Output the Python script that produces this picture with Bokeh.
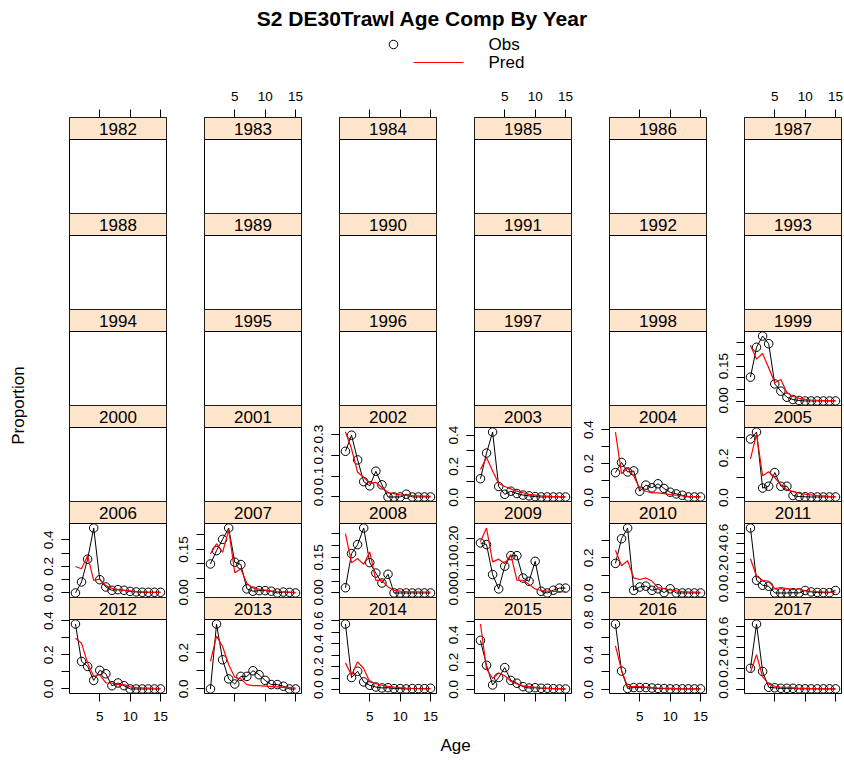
import math
from bokeh.plotting import figure
from bokeh.models import (Range1d, LinearAxis, FixedTicker, PrintfTickFormatter,
                          BoxAnnotation, Label)
from bokeh.layouts import row, column
from bokeh.embed import file_html
from bokeh.resources import INLINE

FONT = "Liberation Sans"
title_text = "S2 DE30Trawl Age Comp By Year"
x_label = "Age"
y_label = "Proportion"
key_labels = ["Obs", "Pred"]
years = list(range(1982, 2018))
ages = list(range(1, 16))
x_ticks = [5, 10, 15]

obs_1999 = [0.103, 0.231, 0.279, 0.246, 0.074, 0.043, 0.017, 0.007, 0.003, 0.001, 0.001, 0.001, 0.001, 0.001, 0.001]
pred_1999 = [0.240, 0.180, 0.204, 0.143, 0.079, 0.093, 0.036, 0.020, 0.012, 0.008, 0.005, 0.004, 0.003, 0.002, 0.002]
yticks_1999 = [0.00, 0.05, 0.10, 0.15, 0.20, 0.25]
ylabs_1999 = [0.00, 0.15]

obs_2002 = [0.218, 0.295, 0.177, 0.073, 0.053, 0.123, 0.058, 0.0, 0.0, 0.0, 0.013, 0.0, 0.0, 0.0, 0.0]
pred_2002 = [0.310, 0.230, 0.118, 0.094, 0.065, 0.070, 0.045, 0.021, 0.016, 0.010, 0.008, 0.006, 0.005, 0.004, 0.003]
yticks_2002 = [0.0, 0.1, 0.2, 0.3]
ylabs_2002 = [0.0, 0.1, 0.2, 0.3]

obs_2003 = [0.120, 0.285, 0.420, 0.070, 0.020, 0.040, 0.025, 0.015, 0.010, 0.005, 0.003, 0.003, 0.003, 0.003, 0.003]
pred_2003 = [0.180, 0.257, 0.170, 0.090, 0.070, 0.055, 0.040, 0.030, 0.020, 0.015, 0.010, 0.008, 0.006, 0.005, 0.004]
yticks_2003 = [0.0, 0.1, 0.2, 0.3, 0.4]
ylabs_2003 = [0.0, 0.2, 0.4]

obs_2004 = [0.146, 0.206, 0.150, 0.156, 0.036, 0.072, 0.056, 0.080, 0.052, 0.030, 0.020, 0.012, 0.002, 0.002, 0.002]
pred_2004 = [0.386, 0.140, 0.172, 0.126, 0.052, 0.036, 0.026, 0.026, 0.022, 0.016, 0.012, 0.008, 0.005, 0.004, 0.003]
yticks_2004 = [0.0, 0.1, 0.2, 0.3, 0.4]
ylabs_2004 = [0.0, 0.2, 0.4]

obs_2005 = [0.295, 0.330, 0.048, 0.057, 0.126, 0.057, 0.057, 0.010, 0.005, 0.004, 0.003, 0.003, 0.003, 0.003, 0.003]
pred_2005 = [0.195, 0.320, 0.110, 0.130, 0.100, 0.065, 0.040, 0.030, 0.022, 0.017, 0.013, 0.010, 0.008, 0.006, 0.005]
yticks_2005 = [0.0, 0.1, 0.2, 0.3]
ylabs_2005 = [0.0, 0.2]

obs_2006 = [0.0, 0.083, 0.255, 0.490, 0.100, 0.045, 0.020, 0.025, 0.020, 0.012, 0.008, 0.005, 0.005, 0.005, 0.005]
pred_2006 = [0.200, 0.183, 0.280, 0.095, 0.105, 0.055, 0.035, 0.025, 0.020, 0.015, 0.010, 0.008, 0.006, 0.005, 0.004]
yticks_2006 = [0.0, 0.1, 0.2, 0.3, 0.4]
ylabs_2006 = [0.0, 0.2, 0.4]

obs_2007 = [0.100, 0.146, 0.185, 0.224, 0.106, 0.098, 0.014, 0.006, 0.008, 0.008, 0.006, 0.0, 0.003, 0.002, 0.0]
pred_2007 = [0.135, 0.170, 0.140, 0.218, 0.070, 0.083, 0.033, 0.017, 0.013, 0.010, 0.007, 0.005, 0.004, 0.003, 0.002]
yticks_2007 = [0.00, 0.05, 0.10, 0.15, 0.20]
ylabs_2007 = [0.00, 0.15]

obs_2008 = [0.022, 0.166, 0.204, 0.274, 0.128, 0.084, 0.042, 0.079, 0.0, 0.0, 0.0, 0.0, 0.0, 0.0, 0.0]
pred_2008 = [0.250, 0.128, 0.145, 0.121, 0.173, 0.053, 0.053, 0.025, 0.011, 0.008, 0.006, 0.005, 0.005, 0.004, 0.004]
yticks_2008 = [0.00, 0.05, 0.10, 0.15, 0.20, 0.25]
ylabs_2008 = [0.00, 0.15]

obs_2009 = [0.185, 0.179, 0.068, 0.015, 0.099, 0.138, 0.138, 0.055, 0.043, 0.117, 0.006, 0.0, 0.010, 0.018, 0.018]
pred_2009 = [0.190, 0.240, 0.115, 0.125, 0.108, 0.142, 0.047, 0.047, 0.031, 0.015, 0.009, 0.007, 0.006, 0.005, 0.005]
yticks_2009 = [0.00, 0.05, 0.10, 0.15, 0.20]
ylabs_2009 = [0.00, 0.10, 0.20]

obs_2010 = [0.169, 0.310, 0.371, 0.015, 0.034, 0.039, 0.015, 0.024, 0.002, 0.024, 0.0, 0.0, 0.0, 0.0, 0.0]
pred_2010 = [0.244, 0.156, 0.184, 0.086, 0.077, 0.086, 0.068, 0.030, 0.024, 0.018, 0.012, 0.008, 0.006, 0.005, 0.004]
yticks_2010 = [0.0, 0.1, 0.2, 0.3]
ylabs_2010 = [0.0, 0.2]

obs_2011 = [0.650, 0.127, 0.077, 0.067, 0.0, 0.0, 0.0, 0.003, 0.0, 0.025, 0.010, 0.005, 0.003, 0.003, 0.025]
pred_2011 = [0.343, 0.167, 0.127, 0.117, 0.043, 0.053, 0.043, 0.033, 0.043, 0.020, 0.017, 0.013, 0.010, 0.008, 0.007]
yticks_2011 = [0.0, 0.1, 0.2, 0.3, 0.4, 0.5, 0.6]
ylabs_2011 = [0.0, 0.2, 0.4, 0.6]

obs_2012 = [0.380, 0.161, 0.132, 0.050, 0.109, 0.089, 0.019, 0.035, 0.019, 0.0, 0.0, 0.0, 0.0, 0.0, 0.0]
pred_2012 = [0.297, 0.268, 0.151, 0.074, 0.083, 0.035, 0.035, 0.025, 0.025, 0.012, 0.008, 0.006, 0.005, 0.004, 0.003]
yticks_2012 = [0.0, 0.1, 0.2, 0.3, 0.4]
ylabs_2012 = [0.0, 0.2, 0.4]

obs_2013 = [0.0, 0.356, 0.160, 0.055, 0.027, 0.069, 0.069, 0.100, 0.078, 0.047, 0.024, 0.024, 0.015, 0.0, 0.0]
pred_2013 = [0.151, 0.290, 0.233, 0.133, 0.064, 0.055, 0.024, 0.018, 0.018, 0.015, 0.013, 0.011, 0.009, 0.007, 0.005]
yticks_2013 = [0.0, 0.1, 0.2, 0.3]
ylabs_2013 = [0.0, 0.2]

obs_2014 = [0.571, 0.105, 0.160, 0.067, 0.038, 0.023, 0.015, 0.017, 0.009, 0.009, 0.006, 0.009, 0.009, 0.009, 0.012]
pred_2014 = [0.233, 0.125, 0.242, 0.184, 0.067, 0.052, 0.038, 0.029, 0.022, 0.017, 0.013, 0.010, 0.008, 0.007, 0.006]
yticks_2014 = [0.0, 0.1, 0.2, 0.3, 0.4, 0.5, 0.6]
ylabs_2014 = [0.0, 0.2, 0.4, 0.6]

obs_2015 = [0.360, 0.177, 0.032, 0.087, 0.160, 0.066, 0.045, 0.020, 0.010, 0.012, 0.008, 0.008, 0.005, 0.003, 0.003]
pred_2015 = [0.480, 0.150, 0.080, 0.120, 0.100, 0.060, 0.040, 0.025, 0.020, 0.015, 0.010, 0.008, 0.006, 0.005, 0.004]
yticks_2015 = [0.0, 0.1, 0.2, 0.3, 0.4, 0.5]
ylabs_2015 = [0.0, 0.2, 0.4]

obs_2016 = [0.750, 0.210, 0.010, 0.020, 0.020, 0.020, 0.015, 0.010, 0.008, 0.005, 0.005, 0.005, 0.005, 0.005, 0.005]
pred_2016 = [0.500, 0.220, 0.030, 0.030, 0.030, 0.025, 0.020, 0.015, 0.012, 0.010, 0.008, 0.006, 0.005, 0.004, 0.004]
yticks_2016 = [0.0, 0.2, 0.4, 0.6, 0.8]
ylabs_2016 = [0.0, 0.4, 0.8]

obs_2017 = [0.200, 0.620, 0.170, 0.020, 0.015, 0.010, 0.010, 0.010, 0.005, 0.005, 0.005, 0.005, 0.005, 0.005, 0.005]
pred_2017 = [0.160, 0.330, 0.120, 0.050, 0.030, 0.020, 0.020, 0.015, 0.010, 0.010, 0.008, 0.006, 0.005, 0.004, 0.004]
yticks_2017 = [0.0, 0.1, 0.2, 0.3, 0.4, 0.5, 0.6]
ylabs_2017 = [0.0, 0.2, 0.4, 0.6]

panel_data = {
    1999: (obs_1999, pred_1999, yticks_1999, ylabs_1999),
    2002: (obs_2002, pred_2002, yticks_2002, ylabs_2002),
    2003: (obs_2003, pred_2003, yticks_2003, ylabs_2003),
    2004: (obs_2004, pred_2004, yticks_2004, ylabs_2004),
    2005: (obs_2005, pred_2005, yticks_2005, ylabs_2005),
    2006: (obs_2006, pred_2006, yticks_2006, ylabs_2006),
    2007: (obs_2007, pred_2007, yticks_2007, ylabs_2007),
    2008: (obs_2008, pred_2008, yticks_2008, ylabs_2008),
    2009: (obs_2009, pred_2009, yticks_2009, ylabs_2009),
    2010: (obs_2010, pred_2010, yticks_2010, ylabs_2010),
    2011: (obs_2011, pred_2011, yticks_2011, ylabs_2011),
    2012: (obs_2012, pred_2012, yticks_2012, ylabs_2012),
    2013: (obs_2013, pred_2013, yticks_2013, ylabs_2013),
    2014: (obs_2014, pred_2014, yticks_2014, ylabs_2014),
    2015: (obs_2015, pred_2015, yticks_2015, ylabs_2015),
    2016: (obs_2016, pred_2016, yticks_2016, ylabs_2016),
    2017: (obs_2017, pred_2017, yticks_2017, ylabs_2017),
}

# ---- layout constants (pixels) ----
NCOL, NROW = 6, 6
PW = 97            # panel width
PH = 74            # panel (data) height
SH = 22            # strip height
FH = PH + SH       # frame height
LB = 36            # left border of each panel figure
RB = 2
OV = 8             # overflow room below each row
TOPB = 34
BOTB = 35
YLAB_W = 33
HEADER_H = 117 - TOPB
TOTAL_W = YLAB_W + NCOL * (LB + PW + RB)
STRIP_COLOR = "#FFE5CC"
TICK_FS = "13.5px"
PAD = 0.07

xlo = min(ages) - PAD * (max(ages) - min(ages))
xhi = max(ages) + PAD * (max(ages) - min(ages))


def style_axis(ax):
    ax.axis_line_color = None
    ax.major_tick_in = 0
    ax.major_tick_out = 8
    ax.minor_tick_in = 0
    ax.minor_tick_out = 8
    ax.major_tick_line_color = "black"
    ax.minor_tick_line_color = "black"
    ax.major_label_text_font = FONT
    ax.major_label_text_font_size = TICK_FS
    ax.major_label_text_color = "black"


def make_panel(r, c, year):
    top_b = TOPB if r == 0 else 0
    bot_b = BOTB if r == NROW - 1 else OV
    data = panel_data.get(year)
    if data is not None:
        obs, pred, yt, yl = data
        lo = min(min(obs), min(pred))
        hi = max(max(obs), max(pred))
        d = hi - lo
        ylo, yhi = lo - PAD * d, hi + PAD * d
    else:
        ylo, yhi = 0.0, 1.0
    yend = ylo + (yhi - ylo) * FH / PH
    p = figure(frame_width=PW, frame_height=FH,
               x_range=Range1d(xlo, xhi), y_range=Range1d(ylo, yend),
               x_axis_type=None, y_axis_type=None,
               toolbar_location=None, output_backend="svg",
               min_border_left=LB, min_border_right=RB,
               min_border_top=top_b, min_border_bottom=bot_b,
               margin=(0 if r == 0 else -OV, 0, 0, 0))
    p.border_fill_alpha = 0
    p.background_fill_color = "white"
    p.outline_line_color = "black"
    p.outline_line_width = 1
    p.extra_x_ranges = {"sx": Range1d(0, 1)}
    p.extra_y_ranges = {"sy": Range1d(0, FH)}

    if data is not None:
        p.line(ages, obs, line_color="black", line_width=1)
        p.scatter(ages, obs, marker="circle", size=8.5, fill_color=None,
                  line_color="black", line_width=1)
        p.line(ages, pred, line_color="red", line_width=1.2)
        ticks_in = [t for t in yt if ylo <= t <= yhi]
        labs_in = [t for t in yl if ylo <= t <= yhi]
        dec = 2 if any(abs(round(t * 100) % 10) > 0 for t in yt) else 1
        yax = LinearAxis(ticker=FixedTicker(ticks=labs_in, minor_ticks=ticks_in),
                         formatter=PrintfTickFormatter(format="%." + str(dec) + "f"))
        style_axis(yax)
        yax.major_label_orientation = "vertical"
        yax.major_label_standoff = 8
        p.add_layout(yax, "left")

    strip = BoxAnnotation(bottom=PH, y_range_name="sy", fill_color=STRIP_COLOR,
                          fill_alpha=1.0, line_color="black", line_width=1, line_alpha=1.0)
    p.add_layout(strip)
    p.add_layout(Label(x=0.5, y=PH + SH / 2, x_range_name="sx", y_range_name="sy",
                       text=str(year), text_align="center", text_baseline="middle",
                       text_font=FONT, text_font_size="17px", text_color="black"))

    if r == 0 or r == NROW - 1:
        xax = LinearAxis(ticker=FixedTicker(ticks=x_ticks, minor_ticks=[]))
        style_axis(xax)
        labeled = (c % 2 == 1) if r == 0 else (c % 2 == 0)
        if not labeled:
            xax.major_label_overrides = {t: "" for t in x_ticks}
        xax.major_label_standoff = 9 if r == 0 else 10
        p.add_layout(xax, "above" if r == 0 else "below")
    return p


rows = []
for r in range(NROW):
    figs = [make_panel(r, c, years[r * NCOL + c]) for c in range(NCOL)]
    rows.append(row(*figs))
grid = column(*rows)

GRID_H = (TOPB + FH + OV) + (NROW - 2) * FH + (FH + BOTB - OV)
FOOT_H = 760 - HEADER_H - GRID_H

# header: title + key (pixel coordinates of the header canvas, y from top)
header = figure(width=TOTAL_W, height=HEADER_H, x_range=Range1d(0, TOTAL_W),
                y_range=Range1d(HEADER_H, 0), x_axis_type=None, y_axis_type=None,
                toolbar_location=None, output_backend="svg",
                min_border=0, outline_line_color=None)
header.grid.visible = False
header.add_layout(Label(x=422, y=18, text=title_text, text_align="center",
                        text_baseline="middle", text_font=FONT, text_font_size="21px",
                        text_font_style="bold", text_color="black"))
# key: point symbol column, line column, text column (lattice-style key)
key_y = [44, 62]
header.scatter(x=[393], y=[key_y[0]], marker="circle", size=8.5, fill_color=None,
               line_color="black", line_width=1)
header.segment(x0=[413], x1=[463], y0=[key_y[1]], y1=[key_y[1]], line_color="red",
               line_width=1.2)
for lab, ky in zip(key_labels, key_y):
    header.add_layout(Label(x=488, y=ky, text=lab, text_align="left", text_baseline="middle",
                            text_font=FONT, text_font_size="17px", text_color="black"))

ylab = figure(width=YLAB_W, height=GRID_H, x_range=Range1d(0, YLAB_W),
              y_range=Range1d(0, GRID_H), x_axis_type=None, y_axis_type=None,
              toolbar_location=None, output_backend="svg", min_border=0,
              outline_line_color=None)
ylab.add_layout(Label(x=18, y=GRID_H - (TOPB + NROW * FH / 2), text=y_label, angle=math.pi / 2,
                      text_align="center", text_baseline="middle", text_font=FONT,
                      text_font_size="17px", text_color="black"))

footer = figure(width=TOTAL_W, height=FOOT_H, x_range=Range1d(0, TOTAL_W),
                y_range=Range1d(FOOT_H, 0), x_axis_type=None, y_axis_type=None,
                toolbar_location=None, output_backend="svg", min_border=0,
                outline_line_color=None)
footer.add_layout(Label(x=YLAB_W + LB + (NCOL * (LB + PW + RB) - LB - RB) / 2,
                        y=745 - HEADER_H - GRID_H,
                        text=x_label, text_align="center", text_baseline="middle",
                        text_font=FONT, text_font_size="17px", text_color="black"))

layout = column(header, row(ylab, grid), footer)

with open("out.html", "w") as f:
    f.write(file_html(layout, INLINE))
